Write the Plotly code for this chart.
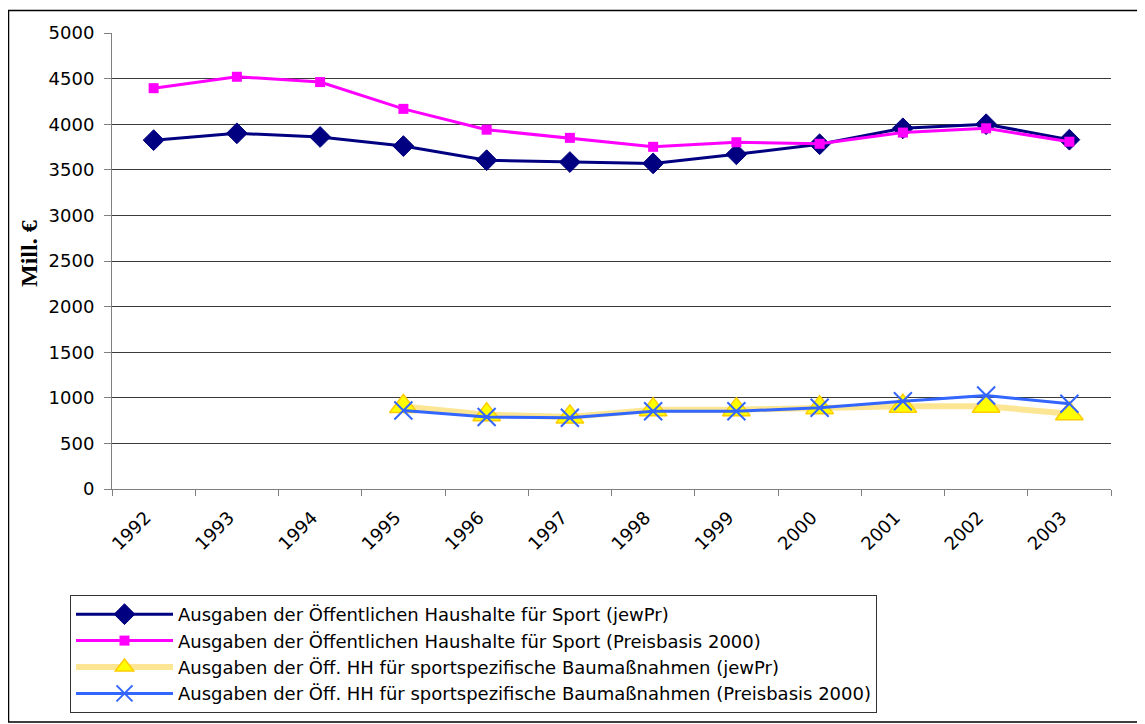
import plotly.graph_objects as go

years = ["1992", "1993", "1994", "1995", "1996", "1997", "1998", "1999", "2000", "2001", "2002", "2003"]
sport_jewpr = [3825, 3900, 3860, 3760, 3605, 3585, 3570, 3670, 3780, 3955, 4000, 3830]
sport_pb2000 = [4395, 4520, 4462, 4168, 3940, 3850, 3752, 3802, 3785, 3908, 3955, 3808]
bau_jewpr = [None, None, None, 905, 815, 790, 870, 870, 892, 908, 908, 825]
bau_pb2000 = [None, None, None, 861, 790, 781, 853, 853, 890, 963, 1025, 934]

names = [
    "Ausgaben der Öffentlichen Haushalte für Sport (jewPr)",
    "Ausgaben der Öffentlichen Haushalte für Sport (Preisbasis 2000)",
    "Ausgaben der Öff. HH für sportspezifische Baumaßnahmen (jewPr)",
    "Ausgaben der Öff. HH für sportspezifische Baumaßnahmen (Preisbasis 2000)",
]

fig = go.Figure()
fig.add_trace(go.Scatter(
    x=years, y=sport_jewpr, name=names[0], mode="lines+markers",
    line=dict(color="#000080", width=3),
    marker=dict(symbol="diamond", size=16, color="#000080", line=dict(color="#000080", width=1)),
))
fig.add_trace(go.Scatter(
    x=years, y=sport_pb2000, name=names[1], mode="lines+markers",
    line=dict(color="#FF00FF", width=3),
    marker=dict(symbol="square", size=10, color="#FF00FF"),
))
fig.add_trace(go.Scatter(
    x=years, y=bau_jewpr, name=names[2], mode="lines+markers",
    line=dict(color="rgba(250,205,40,0.5)", width=6),
    marker=dict(symbol="triangle-up", size=24, color="#FFFF00", line=dict(color="#FFCC00", width=1.5)),
))
fig.add_trace(go.Scatter(
    x=years, y=bau_pb2000, name=names[3], mode="lines+markers",
    line=dict(color="#3366FF", width=3),
    marker=dict(symbol="x-thin", size=18, color="#3366FF", line=dict(color="#3366FF", width=2)),
))

# the page body has an 8px margin, so the figure is laid out in page coords minus 8
OFF = 8
W, H = 1145 - OFF, 724 - OFF
L, T = 112 - OFF, 33 - OFF
R = 1145 - 1111
B = 724 - 489
pw, ph = W - L - R, H - T - B

def px(x):
    return (x - OFF - L) / pw

def py(y):
    return (H - B - (y - OFF)) / ph

fig.update_layout(
    width=W, height=H,
    margin=dict(l=L, r=R, t=T, b=B, pad=0, autoexpand=False),
    paper_bgcolor="white", plot_bgcolor="white",
    font=dict(family="DejaVu Sans", color="black"),
    showlegend=True,
    legend=dict(
        x=px(70), y=py(595), xanchor="left", yanchor="top",
        bgcolor="white", bordercolor="#333333", borderwidth=1,
        font=dict(family="DejaVu Sans", size=18, color="black"),
        itemwidth=97, traceorder="normal",
    ),
    xaxis=dict(
        type="category", range=[-0.5, 11.5],
        showgrid=False, showline=True, linecolor="#808080", linewidth=1,
        ticks="outside", tickson="boundaries", ticklen=6, tickcolor="#808080",
        tickangle=-45, ticklabelstandoff=10, ticklabelshift=-8,
        tickfont=dict(family="DejaVu Sans", size=18, color="black"),
    ),
    yaxis=dict(
        range=[0, 5000], dtick=500, tick0=0,
        showgrid=True, gridcolor="#3a3a3a", gridwidth=1,
        zeroline=False, showline=True, linecolor="#808080", linewidth=1,
        ticks="outside", ticklen=7, tickcolor="#808080", ticklabelstandoff=6,
        tickfont=dict(family="DejaVu Sans", size=18, color="black"),
    ),
    annotations=[dict(
        text="<b>Mill. €</b>", textangle=-90, showarrow=False,
        xref="paper", yref="paper", x=px(29), y=py(254),
        xanchor="center", yanchor="middle",
        font=dict(family="Liberation Serif", size=24, color="black"),
    )],
    shapes=[dict(
        type="rect", xref="paper", yref="paper", layer="below",
        x0=px(8.5), x1=px(1160), y0=py(722), y1=py(10.5),
        line=dict(color="black", width=1.5), fillcolor="rgba(0,0,0,0)",
    )],
)

fig.write_html("out.html")
